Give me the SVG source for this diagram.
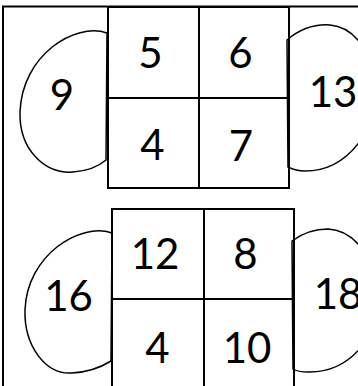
<svg xmlns="http://www.w3.org/2000/svg" width="358" height="386" viewBox="0 0 358 386">
<style>
.frame{fill:none;stroke:#000;stroke-width:2}
.box{fill:none;stroke:#000;stroke-width:2}
.half{fill:#fff;stroke:#000;stroke-width:1.5}
.lbl{font-family:Lato,"Open Sans",sans-serif;font-size:42px;fill:#000;text-anchor:middle}
</style>
<rect width="358" height="386" fill="#fff"/>
<g id="frame">
<path class="frame" d="M3,386 V6.5 H358"/>
</g>
<g id="connectors"></g>
<g id="node-9">
<path class="half" d="M107,33 C75,22 22,55 20,112 C19,150 45,174 73,172 C88,171 99,166 106,160 Z"/>
<text class="lbl" x="62" y="110">9</text>
</g>
<g id="node-13">
<path class="half" d="M287,40 C300,29 315,24 330,25 C355,27 375,55 376,90 C378,125 350,171 305,171 C297,171 292,169 288,167 Z"/>
<text class="lbl" x="333" y="107">13</text>
</g>
<g id="node-16">
<path class="half" d="M112,233 C80,222 27,255 25,310 C24,345 45,375 72,373 C90,372 103,366 111,361 Z"/>
<text class="lbl" x="68.5" y="311">16</text>
</g>
<g id="node-18">
<path class="half" d="M292,241 C304,232 315,229 328,229 C355,230 378,262 379,296 C380,335 350,373 308,372 C300,372 296,371 293,369 Z"/>
<text class="lbl" x="338" y="309">18</text>
</g>
<g id="node-5">
<rect class="box" x="108" y="7" width="91" height="91"/>
<text class="lbl" x="150.5" y="68">5</text>
</g>
<g id="node-6">
<rect class="box" x="199" y="7" width="90" height="91"/>
<text class="lbl" x="240.5" y="68">6</text>
</g>
<g id="node-4a">
<rect class="box" x="108" y="98" width="91" height="90"/>
<text class="lbl" x="152.5" y="160">4</text>
</g>
<g id="node-7">
<rect class="box" x="199" y="98" width="90" height="90"/>
<text class="lbl" x="241" y="161">7</text>
</g>
<g id="node-12">
<rect class="box" x="112" y="209" width="92" height="90"/>
<text class="lbl" x="155" y="269">12</text>
</g>
<g id="node-8">
<rect class="box" x="204" y="209" width="90" height="90"/>
<text class="lbl" x="245.5" y="269">8</text>
</g>
<g id="node-4b">
<rect class="box" x="112" y="299" width="92" height="100"/>
<text class="lbl" x="157.5" y="363">4</text>
</g>
<g id="node-10">
<rect class="box" x="204" y="299" width="90" height="100"/>
<text class="lbl" x="247" y="363">10</text>
</g>
</svg>
